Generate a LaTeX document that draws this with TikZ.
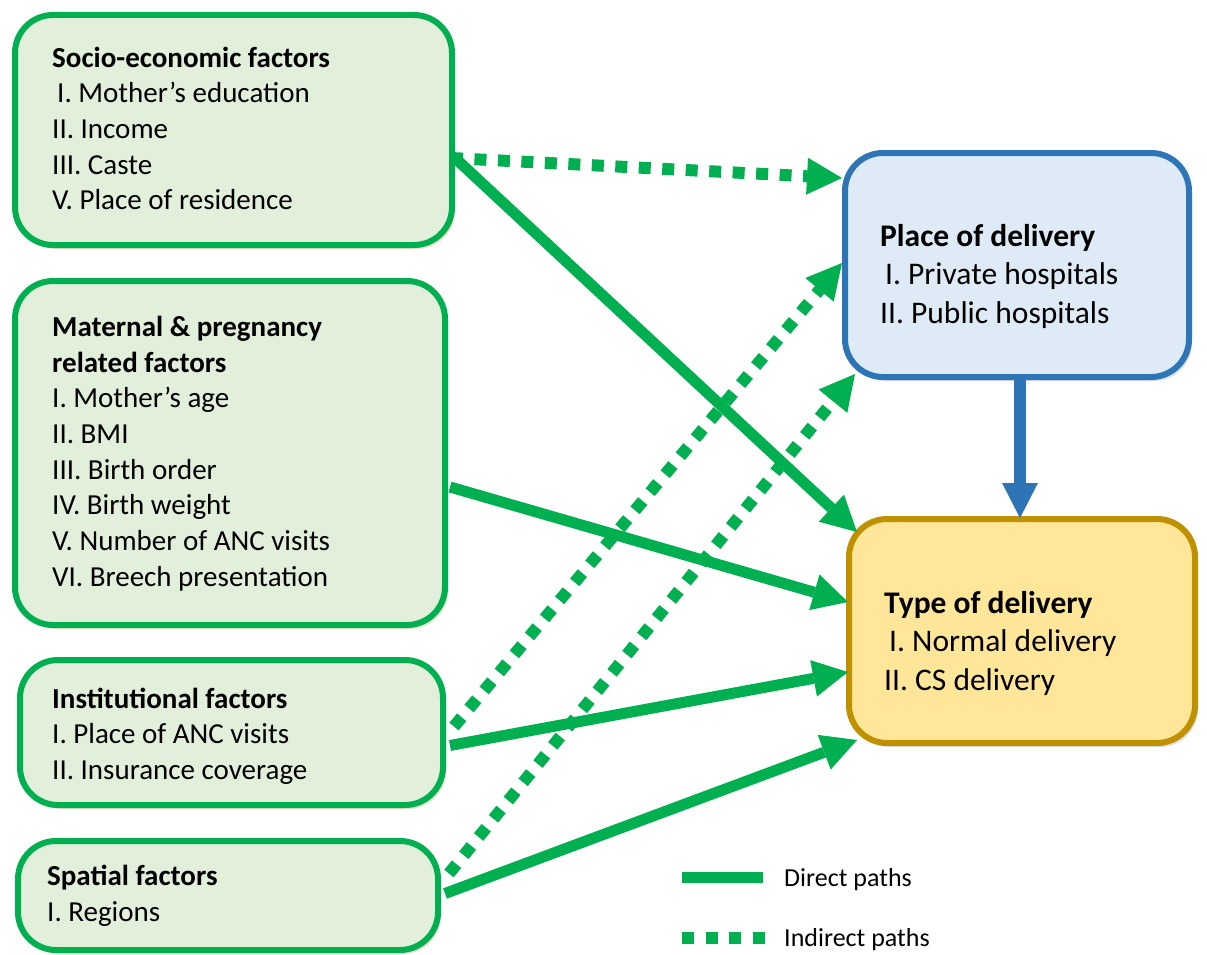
\documentclass[tikz,border=0pt]{standalone}
\usepackage{fontspec}
\setmainfont{Carlito}
\usetikzlibrary{arrows.meta,shadows,calc}
\definecolor{gline}{HTML}{00B050}
\definecolor{gfill}{HTML}{E2EFDA}
\definecolor{bline}{HTML}{2E75B6}
\definecolor{bfill}{HTML}{DEEBF7}
\definecolor{yline}{HTML}{BF9000}
\definecolor{yfill}{HTML}{FFE699}
\definecolor{shadetan}{HTML}{D2C29E}
\definecolor{shadegray}{HTML}{B8BCC4}
\begin{document}
\begin{tikzpicture}[x=1pt,y=-1pt,
  box/.style={draw, line width=6pt, rounded corners=38pt, anchor=north west, inner sep=0pt},
  gbox/.style={box, draw=gline, fill=gfill, drop shadow={shadow xshift=3pt, shadow yshift=-4pt, fill=shadetan}},
  bbox/.style={box, draw=bline, fill=bfill, drop shadow={shadow xshift=3pt, shadow yshift=-4pt, fill=shadegray}},
  ybox/.style={box, draw=yline, fill=yfill, drop shadow={shadow xshift=3pt, shadow yshift=-4pt, fill=shadegray}},
  txt/.style={anchor=west, inner sep=0pt, align=left, font=\fontsize{29}{35.7}\selectfont},
  rtxt/.style={txt, font=\fontsize{31.5}{38.5}\selectfont},
  legtxt/.style={anchor=west, inner sep=0pt, font=\fontsize{26}{31}\selectfont},
  direct/.style={draw=gline, line width=11pt, -{Triangle[length=35pt,width=37pt,line width=0pt]}},
  indirect/.style={draw=gline, line width=12pt, dash pattern=on 12pt off 11.5pt, -{Triangle[length=35pt,width=37pt,line width=0pt]}},
  bluearrow/.style={draw=bline, line width=12pt, -{Triangle[length=35pt,width=36pt,line width=0pt]}},
  legdirect/.style={draw=gline, line width=11pt},
  legindirect/.style={draw=gline, line width=12pt, dash pattern=on 12pt off 11.5pt},
]
\useasboundingbox (0,0) rectangle (1207,955);

% boxes
\node[gbox, minimum width=437pt, minimum height=230pt] (socio) at (12,12) {};
\node[gbox, minimum width=430pt, minimum height=344pt] (mat) at (12,278) {};
\node[gbox, minimum width=423pt, minimum height=145pt] (inst) at (17,657) {};
\node[gbox, minimum width=420pt, minimum height=109pt] (spat) at (15,838) {};
\node[bbox, minimum width=344pt, minimum height=224pt] (place) at (842,150) {};
\node[ybox, minimum width=346pt, minimum height=224pt] (type) at (846,516) {};

% texts
\node[txt] (sociotxt) at (52,128.5) {\textbf{Socio-economic factors}\\
\hspace*{5pt}I. Mother’s education\\
II. Income\\
III. Caste\\
V. Place of residence};
\node[txt] (mattxt) at (52,453.5) {\textbf{Maternal \& pregnancy}\\
\textbf{related factors}\\
I. Mother’s age\\
II. BMI\\
III. Birth order\\
IV. Birth weight\\
V. Number of ANC visits\\
VI. Breech presentation};
\node[txt] (insttxt) at (52,736) {\textbf{Institutional factors}\\
I. Place of ANC visits\\
II. Insurance coverage};
\node[txt] (spattxt) at (47,895.5) {\textbf{Spatial factors}\\
I. Regions};
\node[rtxt] (placetxt) at (880,276) {\textbf{Place of delivery}\\
\hspace*{5pt}I. Private hospitals\\
II. Public hospitals};
\node[rtxt] (typetxt) at (884,643) {\textbf{Type of delivery}\\
\hspace*{5pt}I. Normal delivery\\
II. CS delivery};

% connectors
\draw[indirect] ($(socio.east)+(-4,28)$) -- ($(place.west)+(0,-87)$);
\draw[direct] ($(socio.east)+(0,28)$) -- ($(type.north west)+(11,16)$);
\draw[direct] ($(mat.east)+(2,34)$) -- ($(type.west)+(2,-29)$);
\draw[indirect] ($(inst.east)+(8,-6)$) -- ($(place.west)+(0,-2)$);
\draw[direct] ($(inst.east)+(4,13)$) -- ($(type.west)+(2,41)$);
\draw[indirect] ($(spat.east)+(8,-22)$) -- ($(place.south west)+(13,-6)$);
\draw[direct] ($(spat.east)+(4,-2)$) -- ($(type.south west)+(11,-6)$);
\draw[bluearrow] ($(place.south)+(3,0)$) -- ($(type.north)+(-2,2)$);

% legend
\coordinate (d1) at (682,877);
\coordinate (d2) at (763,877);
\coordinate (i1) at (682,938);
\coordinate (i2) at (766,938);
\draw[legdirect] (d1) -- (d2);
\draw[legindirect] (i1) -- (i2);
\node[legtxt] (dtxt) at (784,880) {Direct paths};
\node[legtxt] (itxt) at (784,940) {Indirect paths};
\end{tikzpicture}
\end{document}
